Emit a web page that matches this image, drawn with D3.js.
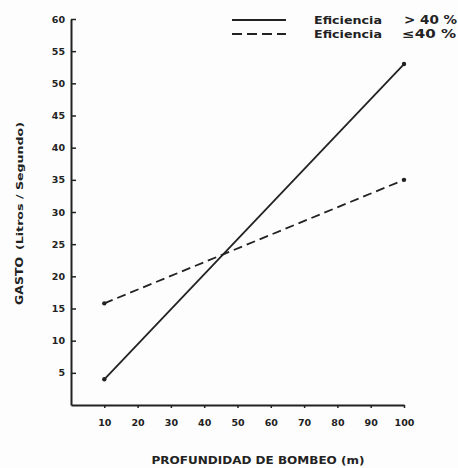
<!DOCTYPE html>
<html>
<head>
<meta charset="utf-8">
<script src="https://cdn.jsdelivr.net/npm/d3@7"></script>
<style>
  body { margin: 0; background: #fdfdfd; }
  svg { display: block; }
  text { font-family: "DejaVu Sans", sans-serif; font-weight: bold; fill: #222; }
</style>
</head>
<body>
<div id="chart"></div>
<script>
// Profundidad de bombeo (m)
const depths = [10, 100]
// Gasto (litros / segundo) for each efficiency group
const gastoAlta = [4, 53]      // Eficiencia > 40 %
const gastoBaja = [15.8, 35]   // Eficiencia <= 40 %
const xTicks = [10, 20, 30, 40, 50, 60, 70, 80, 90, 100]
const yTicks = [5, 10, 15, 20, 25, 30, 35, 40, 45, 50, 55, 60]

const series = [
  { label: "Eficiencia", sign: "> 40 %", values: gastoAlta, dash: null },
  { label: "Eficiencia", sign: "\u226440 %", values: gastoBaja, dash: "9,5" }
]

const WIDTH = 458
const HEIGHT = 468
const INK = "#222"

const svg = d3.select("#chart").append("svg")
  .attr("width", WIDTH)
  .attr("height", HEIGHT)

svg.append("rect")
  .attr("width", WIDTH)
  .attr("height", HEIGHT)
  .attr("fill", "#fdfdfd")

const x = d3.scaleLinear().domain([0, 100]).range([71, 404])
const y = d3.scaleLinear().domain([0, 60]).range([405, 19])

// X axis
const xAxis = svg.append("g")
  .attr("transform", `translate(0, ${y(0)})`)
  .call(d3.axisBottom(x).tickValues(xTicks).tickSize(3).tickSizeOuter(0))

xAxis.select(".domain").attr("stroke", INK).attr("stroke-width", 2)
xAxis.selectAll(".tick line").attr("stroke", INK).attr("stroke-width", 1.5)
xAxis.selectAll(".tick text")
  .attr("y", 14)
  .attr("dy", "0.71em")
  .attr("font-size", "9.5px")
  .attr("fill", INK)

// Y axis, ticks pointing inside the plot
const yAxis = svg.append("g")
  .attr("transform", `translate(${x(0)}, 0)`)
  .call(d3.axisLeft(y).tickValues(yTicks).tickSize(-5).tickSizeOuter(0).tickPadding(6))

yAxis.select(".domain").attr("stroke", INK).attr("stroke-width", 2)
yAxis.selectAll(".tick line").attr("stroke", INK).attr("stroke-width", 1.5)
yAxis.selectAll(".tick text")
  .attr("font-size", "9.5px")
  .attr("fill", INK)

// Lines
const line = d3.line()
  .x(d => x(d.depth))
  .y(d => y(d.value))

series.forEach(s => {
  const data = depths.map((d, i) => ({ depth: d, value: s.values[i] }))

  svg.append("path")
    .datum(data)
    .attr("d", line)
    .attr("fill", "none")
    .attr("stroke", INK)
    .attr("stroke-width", 1.8)
    .attr("stroke-dasharray", s.dash)

  svg.selectAll(null)
    .data(data)
    .enter().append("circle")
      .attr("cx", d => x(d.depth))
      .attr("cy", d => y(d.value))
      .attr("r", 2.2)
      .attr("fill", INK)
})

// Axis titles
svg.append("text")
  .attr("x", 258)
  .attr("y", 464)
  .attr("text-anchor", "middle")
  .attr("font-size", "10px")
  .attr("textLength", 213)
  .attr("lengthAdjust", "spacingAndGlyphs")
  .text("PROFUNDIDAD DE BOMBEO (m)")

svg.append("text")
  .attr("transform", "translate(23, 305) rotate(-90)")
  .attr("font-size", "11px")
  .attr("textLength", 48)
  .attr("lengthAdjust", "spacingAndGlyphs")
  .text("GASTO")

svg.append("text")
  .attr("transform", "translate(23, 250) rotate(-90)")
  .attr("font-size", "9px")
  .attr("textLength", 128)
  .attr("lengthAdjust", "spacingAndGlyphs")
  .text("(Litros / Segundo)")

// Legend
const legend = svg.append("g")
  .attr("transform", "translate(232, 20)")

const legendRow = legend.selectAll(".legendRow")
  .data(series)
  .enter().append("g")
    .attr("class", "legendRow")
    .attr("transform", (d, i) => `translate(0, ${i * 14})`)

legendRow.append("line")
  .attr("x1", 0)
  .attr("x2", 54)
  .attr("stroke", INK)
  .attr("stroke-width", 1.8)
  .attr("stroke-dasharray", d => d.dash ? "10,5" : null)

legendRow.append("text")
  .attr("x", 82)
  .attr("y", 4)
  .attr("font-size", "11px")
  .attr("textLength", 68)
  .attr("lengthAdjust", "spacingAndGlyphs")
  .text(d => d.label)

legendRow.append("text")
  .attr("x", (d, i) => i === 0 ? 172 : 170)
  .attr("y", 4)
  .attr("font-size", "11.5px")
  .attr("textLength", (d, i) => i === 0 ? 53 : 54)
  .attr("lengthAdjust", "spacingAndGlyphs")
  .text(d => d.sign)
</script>
</body>
</html>
